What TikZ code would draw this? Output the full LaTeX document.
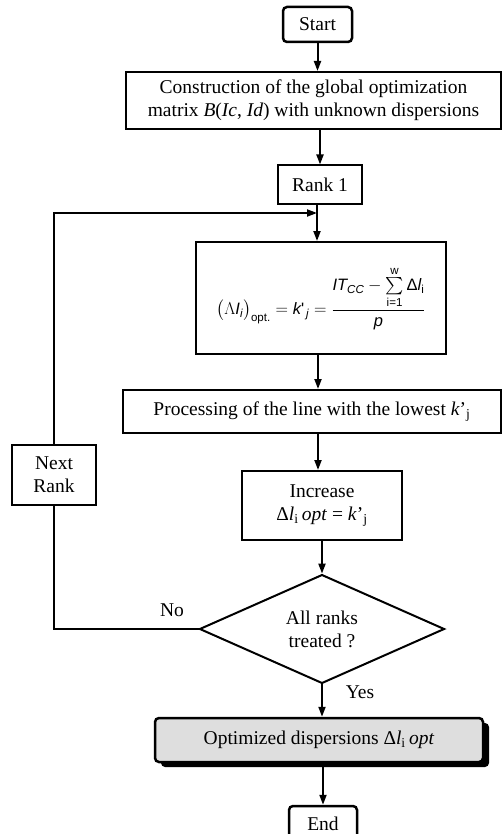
\documentclass[tikz,border=0pt]{standalone}
\usepackage{fontspec}
\usepackage{amsmath}
\setmainfont{Liberation Serif}
\newfontfamily\arialf{Liberation Sans}
\usetikzlibrary{shapes.geometric,arrows.meta,shadows}
\tikzset{
  box/.style={draw, line width=2pt, inner sep=0pt, align=center},
  term/.style={draw, line width=2.5pt, rounded corners=4pt, inner sep=0pt, align=center},
  arr/.style={line width=2pt, -{Triangle[length=10pt,width=7pt]}},
  ln/.style={line width=2pt},
  lbl/.style={inner sep=0pt}
}
\begin{document}
\begin{tikzpicture}[x=1pt,y=-1pt,font=\fontsize{19.5}{23}\selectfont]
\useasboundingbox (0,0) rectangle (503,834);
\node[term, minimum width=69pt, minimum height=35pt] (start) at (317.5,24.5) {Start};
\node[box, minimum width=375pt, minimum height=57pt] (constr) at (313.5,100.5)
  {Construction of the global optimization\\matrix \textit{B}(\textit{Ic}, \textit{Id}) with unknown dispersions};
\node[box, minimum width=84pt, minimum height=39pt] (rank1) at (320,185) {Rank 1};
\node[box, minimum width=250pt, minimum height=112pt] (formula) at (321,298)
  {\arialf\fontsize{16.5}{20}\selectfont $\bigl(\Lambda \textit{I}_{\textit{i}}\bigr)_{\text{opt.}} = \textit{k}\text{'}_{\,\textit{j}} = \dfrac{\textit{IT}_{\textit{CC}} - \sum\limits_{\text{i=1}}^{\text{w}} \text{Δ}\textit{l}_{\text{i}}}{\textit{p}}$};
\node[box, minimum width=378pt, minimum height=43pt] (proc) at (312,411.5)
  {Processing of the line with the lowest \textit{k}’\textsubscript{j}};
\node[box, minimum width=160pt, minimum height=69pt] (incr) at (322,505.5)
  {Increase\\Δ\textit{l}\textsubscript{i}\,\textit{opt} = \textit{k}’\textsubscript{j}};
\node[draw, diamond, line width=2pt, inner sep=0pt, minimum width=245pt, minimum height=103pt, align=center] (dia) at (322,629)
  {All ranks\\treated ?};
\node[term, fill=black!13, minimum width=328pt, minimum height=44pt,
  drop shadow={shadow xshift=6pt, shadow yshift=-5pt, fill=black, opacity=1}] (optd) at (319,740)
  {Optimized dispersions Δ\textit{l}\textsubscript{i}\,\textit{opt}};
\node[term, minimum width=68pt, minimum height=35pt] (end) at (323,823.5) {End};
\node[box, minimum width=84pt, minimum height=60pt] (next) at (54,475) {Next\\Rank};
\node[lbl] (no) at (172,610) {No};
\node[lbl] (yes) at (360,692) {Yes};
\coordinate (loopin) at (317,213);
\coordinate (colA) at (318,0);
\draw[arr] (start.south) -- (start.south |- constr.north);
\draw[arr] (constr.south -| rank1.north) -- (rank1.north);
\draw[arr] (rank1.south -| loopin) -- (loopin |- formula.north);
\draw[arr] (formula.south -| colA) -- (proc.north -| colA);
\draw[arr] (proc.south -| colA) -- (incr.north -| colA);
\draw[arr] (incr.south) -- (dia.north);
\draw[arr] (dia.south) -- (dia.south |- optd.north);
\draw[arr] (optd.south -| end.north) -- (end.north);
\draw[ln] (dia.west) -| (next.south);
\draw[arr] (next.north) |- (loopin);
\end{tikzpicture}
\end{document}
